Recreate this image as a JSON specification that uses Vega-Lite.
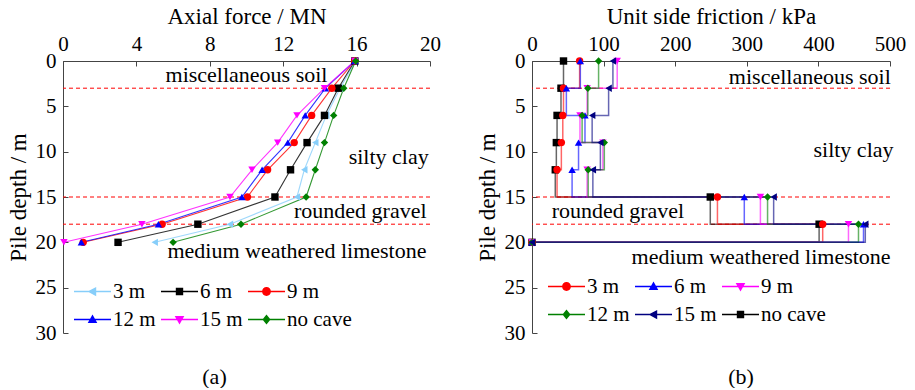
{
  "$schema": "https://vega.github.io/schema/vega-lite/v6.json",
  "background": "white",
  "padding": {"left": 7, "top": 5, "right": 5, "bottom": 0},
  "resolve": {"scale": {"color": "independent", "shape": "independent"}, "legend": {"color": "independent", "shape": "independent"}},
  "config": {
    "font": "Liberation Serif",
    "view": {"stroke": null},
    "concat": {"spacing": 35},
    "axis": {
      "grid": false,
      "domainColor": "#444",
      "tickColor": "#444",
      "tickSize": -5,
      "labelPadding": 12,
      "labelFlush": false,
      "labelFont": "Liberation Serif",
      "titleFont": "Liberation Serif",
      "labelFontSize": 21,
      "titleFontSize": 23,
      "titleFontWeight": "normal",
      "labelColor": "#000",
      "titleColor": "#000",
      "titlePadding": 5
    },
    "legend": {
      "labelFont": "Liberation Serif",
      "labelFontSize": 21,
      "labelColor": "#000",
      "symbolStrokeWidth": 0,
      "symbolSize": 1369,
      "clipHeight": 25,
      "rowPadding": 3,
      "columnPadding": 5,
      "labelOffset": 2,
      "direction": "horizontal"
    },
    "title": {"font": "Liberation Serif", "fontSize": 22, "fontWeight": "normal", "color": "#000"}
  },
  "datasets": {
    "axial": [
      {"case": "3 m", "depth": 0, "force": 15.95}, {"case": "3 m", "depth": 3, "force": 15.1}, {"case": "3 m", "depth": 6, "force": 14.35}, {"case": "3 m", "depth": 9, "force": 13.75},
      {"case": "3 m", "depth": 12, "force": 13.15}, {"case": "3 m", "depth": 15, "force": 12.75}, {"case": "3 m", "depth": 18, "force": 9.1}, {"case": "3 m", "depth": 20, "force": 5.0},
      {"case": "6 m", "depth": 0, "force": 15.9}, {"case": "6 m", "depth": 3, "force": 15.0}, {"case": "6 m", "depth": 6, "force": 14.25}, {"case": "6 m", "depth": 9, "force": 13.3},
      {"case": "6 m", "depth": 12, "force": 12.4}, {"case": "6 m", "depth": 15, "force": 11.55}, {"case": "6 m", "depth": 18, "force": 7.35}, {"case": "6 m", "depth": 20, "force": 3.0},
      {"case": "9 m", "depth": 0, "force": 15.9}, {"case": "9 m", "depth": 3, "force": 14.65}, {"case": "9 m", "depth": 6, "force": 13.55}, {"case": "9 m", "depth": 9, "force": 12.6},
      {"case": "9 m", "depth": 12, "force": 11.15}, {"case": "9 m", "depth": 15, "force": 10.05}, {"case": "9 m", "depth": 18, "force": 5.4}, {"case": "9 m", "depth": 20, "force": 1.1},
      {"case": "12 m", "depth": 0, "force": 15.9}, {"case": "12 m", "depth": 3, "force": 14.3}, {"case": "12 m", "depth": 6, "force": 13.2}, {"case": "12 m", "depth": 9, "force": 12.25},
      {"case": "12 m", "depth": 12, "force": 10.85}, {"case": "12 m", "depth": 15, "force": 9.75}, {"case": "12 m", "depth": 18, "force": 5.2}, {"case": "12 m", "depth": 20, "force": 1.0},
      {"case": "15 m", "depth": 0, "force": 15.9}, {"case": "15 m", "depth": 3, "force": 14.25}, {"case": "15 m", "depth": 6, "force": 12.75}, {"case": "15 m", "depth": 9, "force": 11.7},
      {"case": "15 m", "depth": 12, "force": 10.3}, {"case": "15 m", "depth": 15, "force": 9.1}, {"case": "15 m", "depth": 18, "force": 4.3}, {"case": "15 m", "depth": 20, "force": 0.05},
      {"case": "no cave", "depth": 0, "force": 15.95}, {"case": "no cave", "depth": 3, "force": 15.3}, {"case": "no cave", "depth": 6, "force": 14.75}, {"case": "no cave", "depth": 9, "force": 14.25},
      {"case": "no cave", "depth": 12, "force": 13.75}, {"case": "no cave", "depth": 15, "force": 13.25}, {"case": "no cave", "depth": 18, "force": 9.7}, {"case": "no cave", "depth": 20, "force": 6.0}
    ],
    "friction": [
      {"case": "no cave", "depth": 0, "friction": 44}, {"case": "no cave", "depth": 3, "friction": 40.5}, {"case": "no cave", "depth": 6, "friction": 35}, {"case": "no cave", "depth": 9, "friction": 34},
      {"case": "no cave", "depth": 12, "friction": 32.5}, {"case": "no cave", "depth": 15, "friction": 249}, {"case": "no cave", "depth": 18, "friction": 401}, {"case": "no cave", "depth": 20, "friction": 0},
      {"case": "3 m", "depth": 0, "friction": 66.5}, {"case": "3 m", "depth": 3, "friction": 44}, {"case": "3 m", "depth": 6, "friction": 43}, {"case": "3 m", "depth": 9, "friction": 41},
      {"case": "3 m", "depth": 12, "friction": 35}, {"case": "3 m", "depth": 15, "friction": 259}, {"case": "3 m", "depth": 18, "friction": 406}, {"case": "3 m", "depth": 20, "friction": 0},
      {"case": "6 m", "depth": 0, "friction": 67.5}, {"case": "6 m", "depth": 3, "friction": 48}, {"case": "6 m", "depth": 6, "friction": 74}, {"case": "6 m", "depth": 9, "friction": 65},
      {"case": "6 m", "depth": 12, "friction": 56}, {"case": "6 m", "depth": 15, "friction": 296.5}, {"case": "6 m", "depth": 18, "friction": 463}, {"case": "6 m", "depth": 20, "friction": 0},
      {"case": "9 m", "depth": 0, "friction": 119}, {"case": "9 m", "depth": 3, "friction": 77}, {"case": "9 m", "depth": 6, "friction": 67}, {"case": "9 m", "depth": 9, "friction": 99},
      {"case": "9 m", "depth": 12, "friction": 77}, {"case": "9 m", "depth": 15, "friction": 319}, {"case": "9 m", "depth": 18, "friction": 442}, {"case": "9 m", "depth": 20, "friction": 0},
      {"case": "12 m", "depth": 0, "friction": 93}, {"case": "12 m", "depth": 3, "friction": 78}, {"case": "12 m", "depth": 6, "friction": 70}, {"case": "12 m", "depth": 9, "friction": 101},
      {"case": "12 m", "depth": 12, "friction": 78.5}, {"case": "12 m", "depth": 15, "friction": 329}, {"case": "12 m", "depth": 18, "friction": 456}, {"case": "12 m", "depth": 20, "friction": 0},
      {"case": "15 m", "depth": 0, "friction": 113}, {"case": "15 m", "depth": 3, "friction": 107}, {"case": "15 m", "depth": 6, "friction": 84}, {"case": "15 m", "depth": 9, "friction": 95.5},
      {"case": "15 m", "depth": 12, "friction": 85}, {"case": "15 m", "depth": 15, "friction": 337.5}, {"case": "15 m", "depth": 18, "friction": 465.5}, {"case": "15 m", "depth": 20, "friction": 0}
    ],
    "boundaries": [{"depth": 3}, {"depth": 15}, {"depth": 18}],
    "strataA": [
      {"name": "miscellaneous soil", "force": 10.0, "depth": 1.55},
      {"name": "silty clay", "force": 17.75, "depth": 10.6},
      {"name": "rounded gravel", "force": 16.2, "depth": 16.55},
      {"name": "medium weathered limestone", "force": 12.75, "depth": 21.0}
    ],
    "strataB": [
      {"name": "miscellaneous soil", "friction": 388, "depth": 1.76},
      {"name": "silty clay", "friction": 449, "depth": 9.8},
      {"name": "rounded gravel", "friction": 120, "depth": 16.5},
      {"name": "medium weathered limestone", "friction": 320, "depth": 21.6}
    ]
  },
  "hconcat": [
    {
      "width": 367,
      "height": 272,
      "title": {"text": "(a)", "orient": "bottom", "offset": 24, "dx": -32},
      "layer": [
        {
          "data": {"name": "boundaries"},
          "mark": {"type": "rule", "color": "#ff0000", "strokeDash": [4, 3], "strokeWidth": 1},
          "encoding": {
            "y": {"field": "depth", "type": "quantitative", "scale": {"domain": [0, 30], "reverse": true, "nice": false},
              "axis": {"title": "Pile depth / m", "values": [0, 5, 10, 15, 20, 25, 30]}}
          }
        },
        {
          "data": {"name": "axial"},
          "mark": {"type": "line", "strokeWidth": 1.1, "strokeOpacity": 0.8},
          "encoding": {
            "x": {"field": "force", "type": "quantitative", "scale": {"domain": [0, 20], "nice": false},
              "axis": {"orient": "top", "title": "Axial force / MN", "values": [0, 4, 8, 12, 16, 20]}},
            "y": {"field": "depth", "type": "quantitative"},
            "order": {"field": "depth", "type": "quantitative"},
            "color": {"field": "case", "type": "nominal",
              "scale": {"domain": ["3 m", "6 m", "9 m", "12 m", "15 m", "no cave"], "range": ["#87cefa", "#000000", "#ff0000", "#0000ff", "#ff00ff", "#008000"]}}
          }
        },
        {
          "data": {"name": "axial"},
          "mark": {"type": "point", "filled": true, "size": 55, "opacity": 1},
          "encoding": {
            "x": {"field": "force", "type": "quantitative"},
            "y": {"field": "depth", "type": "quantitative"},
            "shape": {"field": "case", "type": "nominal", "legend": null,
              "scale": {"domain": ["no cave", "3 m", "6 m", "9 m", "12 m", "15 m"], "range": ["diamond", "triangle-left", "square", "circle", "triangle-up", "triangle-down"]}},
            "color": {"field": "case", "type": "nominal",
              "legend": {
                "title": null, "orient": "none", "legendX": 11, "legendY": 218, "columns": 3,
                "labelExpr": "datum.label == '3 m' || datum.label == '6 m' ? '\u2007' + datum.label : datum.label",
                "symbolType": {"expr": "datum.value == '3 m' ? 'M-1,-0.035H1V0.035H-1ZM-0.27,0L0.2,-0.25L0.2,0.25Z' : datum.value == '6 m' ? 'M-1,-0.035H1V0.035H-1ZM-0.2,-0.2H0.2V0.2H-0.2Z' : datum.value == '9 m' ? 'M-1,-0.035H1V0.035H-1ZM0.24,0A0.24,0.24,0,1,1,-0.24,0A0.24,0.24,0,1,1,0.24,0Z' : datum.value == '12 m' ? 'M-1,-0.035H1V0.035H-1ZM0,-0.27L0.26,0.19L-0.26,0.19Z' : datum.value == '15 m' ? 'M-1,-0.035H1V0.035H-1ZM0,0.27L-0.26,-0.19L0.26,-0.19Z' : 'M-1,-0.035H1V0.035H-1ZM0,-0.27L0.22,0L0,0.27L-0.22,0Z'"}
              }}
          }
        },
        {
          "data": {"name": "strataA"},
          "mark": {"type": "text", "fontSize": 22, "baseline": "middle", "align": "center", "color": "#000"},
          "encoding": {
            "x": {"field": "force", "type": "quantitative"},
            "y": {"field": "depth", "type": "quantitative"},
            "text": {"field": "name"}
          }
        }
      ]
    },
    {
      "width": 358,
      "height": 272,
      "title": {"text": "(b)", "orient": "bottom", "offset": 24, "dx": 30},
      "layer": [
        {
          "data": {"name": "boundaries"},
          "mark": {"type": "rule", "color": "#ff0000", "strokeDash": [4, 3], "strokeWidth": 1},
          "encoding": {
            "y": {"field": "depth", "type": "quantitative", "scale": {"domain": [0, 30], "reverse": true, "nice": false},
              "axis": {"title": "Pile depth / m", "values": [0, 5, 10, 15, 20, 25, 30]}}
          }
        },
        {
          "data": {"name": "friction"},
          "mark": {"type": "line", "interpolate": "step-before", "strokeWidth": 1.5, "strokeOpacity": 0.6},
          "encoding": {
            "x": {"field": "friction", "type": "quantitative", "scale": {"domain": [0, 500], "nice": false},
              "axis": {"orient": "top", "title": "Unit side friction / kPa", "values": [0, 100, 200, 300, 400, 500]}},
            "y": {"field": "depth", "type": "quantitative"},
            "order": {"field": "depth", "type": "quantitative"},
            "color": {"field": "case", "type": "nominal",
              "scale": {"domain": ["3 m", "6 m", "9 m", "12 m", "15 m", "no cave"], "range": ["#ff0000", "#0000ff", "#ff00ff", "#008000", "#000080", "#000000"]}}
          }
        },
        {
          "data": {"name": "friction"},
          "mark": {"type": "point", "filled": true, "size": 55, "opacity": 1},
          "encoding": {
            "x": {"field": "friction", "type": "quantitative"},
            "y": {"field": "depth", "type": "quantitative"},
            "shape": {"field": "case", "type": "nominal", "legend": null,
              "scale": {"domain": ["no cave", "3 m", "6 m", "9 m", "12 m", "15 m"], "range": ["square", "circle", "triangle-up", "triangle-down", "diamond", "triangle-left"]}},
            "color": {"field": "case", "type": "nominal",
              "legend": {
                "title": null, "orient": "none", "legendX": 16, "legendY": 213, "columns": 3,
                "labelExpr": "datum.label == '3 m' || datum.label == '6 m' ? '\u2007' + datum.label : datum.label",
                "symbolType": {"expr": "datum.value == '3 m' ? 'M-1,-0.035H1V0.035H-1ZM0.24,0A0.24,0.24,0,1,1,-0.24,0A0.24,0.24,0,1,1,0.24,0Z' : datum.value == '6 m' ? 'M-1,-0.035H1V0.035H-1ZM0,-0.27L0.26,0.19L-0.26,0.19Z' : datum.value == '9 m' ? 'M-1,-0.035H1V0.035H-1ZM0,0.27L-0.26,-0.19L0.26,-0.19Z' : datum.value == '12 m' ? 'M-1,-0.035H1V0.035H-1ZM0,-0.27L0.22,0L0,0.27L-0.22,0Z' : datum.value == '15 m' ? 'M-1,-0.035H1V0.035H-1ZM-0.27,0L0.2,-0.25L0.2,0.25Z' : 'M-1,-0.035H1V0.035H-1ZM-0.2,-0.2H0.2V0.2H-0.2Z'"}
              }}
          }
        },
        {
          "data": {"name": "strataB"},
          "mark": {"type": "text", "fontSize": 22, "baseline": "middle", "align": "center", "color": "#000"},
          "encoding": {
            "x": {"field": "friction", "type": "quantitative"},
            "y": {"field": "depth", "type": "quantitative"},
            "text": {"field": "name"}
          }
        }
      ]
    }
  ]
}
